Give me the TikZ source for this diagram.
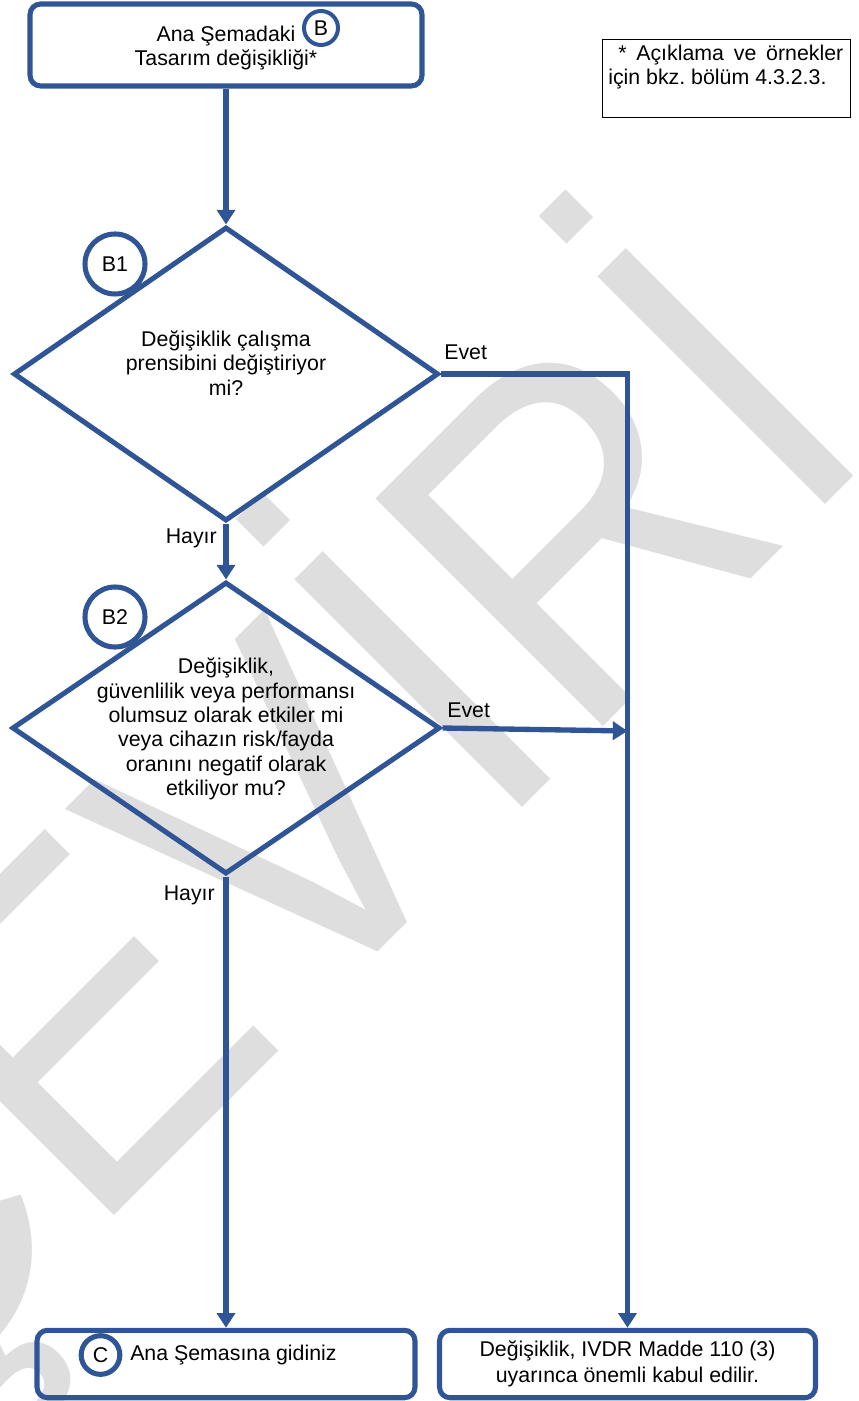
\documentclass[tikz,border=0pt]{standalone}
\usepackage{fontspec}
\setmainfont{Liberation Sans}
\usetikzlibrary{shapes.geometric, arrows.meta}
\definecolor{flowblue}{RGB}{47,85,151}
\definecolor{wmgray}{RGB}{222,222,222}
\frenchspacing

\begin{document}
\begin{tikzpicture}[x=0.75pt, y=-0.75pt,
  every node/.style={font=\fontsize{16}{18.2}\selectfont},
  box/.style={draw=flowblue, line width=3.8pt, rounded corners=8pt, inner sep=0pt},
  decision/.style={draw=flowblue, line width=3.8pt, diamond, inner sep=0pt},
  tag/.style={draw=flowblue, fill=white, circle, inner sep=0pt},
  conn/.style={draw=flowblue, line width=4pt, -{Triangle[length=11pt,width=13.5pt]}},
  lbl/.style={inner sep=0pt},
]
\useasboundingbox (0,0) rectangle (859,1401);

% background watermark
\begin{scope}
  \clip (0,0) rectangle (859,1401);
  \node[rotate=45, yscale=1.09, anchor=base west, inner sep=0pt, text=wmgray,
        font=\fontsize{322}{322}\selectfont] (wm) at (-130,1460) {ÇEVİRİ};
\end{scope}

% start box
\node[box, minimum width=294pt, minimum height=61.5pt] (start) at (226,45) {};
\node[lbl, align=center] (starttext) at (226,48) {Ana Şemadaki\\Tasarım değişikliği*};
\node[tag, line width=3pt, minimum size=25.5pt] (tB) at (321,28) {B};

% footnote box
\node[draw=black, line width=0.75pt, minimum width=186pt, minimum height=58.5pt, inner sep=0pt] (note) at (726,79) {};
\node[lbl, anchor=base west] (n1) at (606,61)
  {\hbox to 177.75pt{\hskip 9pt *\hfill Açıklama\hfill ve\hfill örnekler}};
\node[lbl, anchor=base west] (n2) at (608,85) {için bkz. bölüm 4.3.2.3.};

% first decision
\node[decision, minimum width=318.75pt, minimum height=220.5pt] (d1) at (226,374) {};
\node[lbl, align=center] (q1) at (226,363)
  {Değişiklik çalışma\\prensibini değiştiriyor\\mi?};
\node[tag, line width=3.8pt, minimum size=45pt] (t1) at (115,264) {B1};

% second decision
\node[decision, minimum width=321pt, minimum height=219pt] (d2) at (226,728) {};
\node[lbl, align=center] (q2) at (226,729)
  {Değişiklik,\\güvenlilik veya performansı\\olumsuz olarak etkiler mi\\veya cihazın risk/fayda\\oranını negatif olarak\\etkiliyor mu?};
\node[tag, line width=3.8pt, minimum size=45pt] (t2) at (115,617) {B2};

% end boxes
\node[box, minimum width=283.5pt, minimum height=50.6pt] (goC) at (226,1364) {};
\node[tag, line width=3.8pt, minimum size=29pt] (tC) at (100.5,1355) {C};
\node[lbl, anchor=base west] (goCtext) at (130,1360) {Ana Şemasına gidiniz};

\node[box, minimum width=282pt, minimum height=50.6pt, align=center,
      font=\fontsize{16}{19.5}\selectfont] (sig) at (627.5,1364)
  {Değişiklik, IVDR Madde 110 (3)\\uyarınca önemli kabul edilir.};

% branch labels
\node[lbl, anchor=base west] (e1) at (444,359) {Evet};
\node[lbl, anchor=base east] (h1) at (217,543) {Hayır};
\node[lbl, anchor=base west] (e2) at (447,717) {Evet};
\node[lbl, anchor=base east] (h2) at (215,900) {Hayır};

% connectors
\coordinate (j2) at (627.5,731);
\draw[conn] (start.south) -- (d1.north);
\draw[conn] (d1.south) -- (d2.north);
\draw[conn] (d2.south) -- (goC.north);
\draw[conn] (d1.east) -| (sig.north);
\draw[conn] (d2.east) -- (j2);
\end{tikzpicture}
\end{document}
